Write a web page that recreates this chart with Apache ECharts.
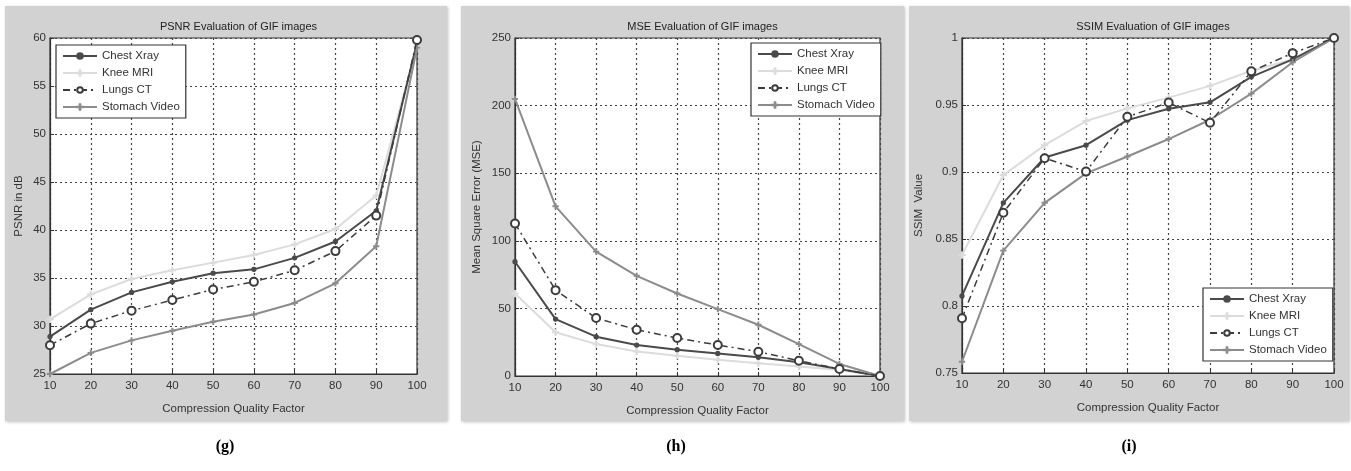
<!DOCTYPE html>
<html><head><meta charset="utf-8">
<script src="https://cdn.jsdelivr.net/npm/echarts@6/dist/echarts.min.js"></script>
<style>html,body{margin:0;padding:0;background:#fff}#c{width:1351px;height:471px}</style>
</head><body><div id="c"></div>
<script>
const quality = [10, 20, 30, 40, 50, 60, 70, 80, 90, 100];
const seriesNames = ['Chest Xray', 'Knee MRI', 'Lungs CT', 'Stomach Video'];

const psnrChest   = [28.9, 31.7, 33.5, 34.6, 35.5, 35.9, 37.1, 38.8, 42.0, 59.5];
const psnrKnee    = [30.7, 33.3, 34.9, 35.8, 36.6, 37.4, 38.5, 40.1, 43.6, 59.2];
const psnrLungs   = [28.0, 30.25, 31.6, 32.7, 33.8, 34.6, 35.8, 37.8, 41.5, 59.8];
const psnrStomach = [25.0, 27.2, 28.5, 29.5, 30.45, 31.2, 32.4, 34.45, 38.3, 59.0];

const mseChest   = [84.5, 42.1, 29.1, 22.9, 19.5, 16.7, 13.8, 10.1, 5.2, 0];
const mseKnee    = [61.0, 32.3, 23.6, 18.2, 15.0, 12.0, 9.4, 7.1, 4.4, 0];
const mseLungs   = [112.8, 63.5, 42.9, 34.2, 28.1, 22.9, 18.0, 11.3, 5.2, 0];
const mseStomach = [205, 125.5, 92, 74.1, 61, 49.5, 37.9, 23.6, 8.9, 0];

const ssimChest   = [0.8075, 0.877, 0.9108, 0.920, 0.9387, 0.9472, 0.952, 0.971, 0.984, 1.0];
const ssimKnee    = [0.838, 0.8977, 0.920, 0.938, 0.9475, 0.9555, 0.9643, 0.9756, 0.984, 1.0];
const ssimLungs   = [0.7908, 0.8696, 0.9103, 0.9003, 0.9412, 0.9518, 0.9367, 0.9751, 0.9887, 1.0];
const ssimStomach = [0.7584, 0.8413, 0.877, 0.899, 0.9116, 0.9246, 0.939, 0.9585, 0.9819, 1.0];

const yTicksPSNR = {min: 25, max: 60, interval: 5};
const yTicksMSE  = {min: 0, max: 250, interval: 50};
const yTicksSSIM = {min: 0.75, max: 1, interval: 0.05};

const panelTitles = ['PSNR Evaluation of GIF images', 'MSE Evaluation of GIF images', 'SSIM Evaluation of GIF images'];
const yNames = ['PSNR in dB', 'Mean Square Error (MSE)', 'SSIM  Value'];
const xName = 'Compression Quality Factor';
const panelLabels = ['(g)', '(h)', '(i)'];

const FONT = 'Liberation Sans, Arial, sans-serif';
const plusPath = 'path://M4.4,0H5.6V4.4H10V5.6H5.6V10H4.4V5.6H0V4.4H4.4Z';
const styles = [
  {color: '#4a4a4a', width: 2, type: 'solid', symbol: 'circle', size: 4},
  {color: '#dcdcdc', width: 2, type: 'solid', symbol: plusPath, size: 6},
  {color: '#3c3c3c', width: 1.5, type: [7, 4, 2, 4], symbol: 'emptyCircle', size: 8},
  {color: '#8c8c8c', width: 2, type: 'solid', symbol: plusPath, size: 5}
];

const grids = [
  {left: 50, top: 38, width: 367, height: 336},
  {left: 515, top: 38, width: 365, height: 338},
  {left: 962, top: 38, width: 372, height: 335}
];
const yTicks = [yTicksPSNR, yTicksMSE, yTicksSSIM];
const yGaps = [25, 32, 37];
const dataSets = [
  [psnrChest, psnrKnee, psnrLungs, psnrStomach],
  [mseChest, mseKnee, mseLungs, mseStomach],
  [ssimChest, ssimKnee, ssimLungs, ssimStomach]
];

const grid = grids.map(g => Object.assign({show: true, backgroundColor: '#fff', borderColor: '#333', borderWidth: 1.2}, g));
const xAxis = grids.map((g, i) => ({
  type: 'value', gridIndex: i, min: 10, max: 100, interval: 10,
  name: xName, nameLocation: 'middle', nameGap: 29,
  nameTextStyle: {fontFamily: FONT, fontSize: 11.5, color: '#333'},
  axisLine: {show: true, lineStyle: {color: '#333', width: 1.2}},
  axisTick: {show: true, inside: true, length: 4, lineStyle: {color: '#333'}},
  axisLabel: {fontFamily: FONT, fontSize: 11.5, color: '#333', margin: 6},
  splitLine: {show: true, lineStyle: {color: '#444', type: [2, 3], width: 1.2}}
}));
const yAxis = grids.map((g, i) => ({
  type: 'value', gridIndex: i, min: yTicks[i].min, max: yTicks[i].max, interval: yTicks[i].interval,
  name: yNames[i], nameLocation: 'middle', nameGap: yGaps[i],
  nameTextStyle: {fontFamily: FONT, fontSize: 11.5, color: '#333'},
  axisLine: {show: true, lineStyle: {color: '#333', width: 1.2}},
  axisTick: {show: true, inside: true, length: 4, lineStyle: {color: '#333'}},
  axisLabel: {fontFamily: FONT, fontSize: 11.5, color: '#333', margin: 4,
    formatter: v => String(+v.toFixed(2))},
  splitLine: {show: true, lineStyle: {color: '#444', type: [2, 3], width: 1.2}}
}));

const series = [];
dataSets.forEach((set, gi) => {
  set.forEach((vals, si) => {
    const s = styles[si];
    series.push({
      type: 'line', name: seriesNames[si], xAxisIndex: gi, yAxisIndex: gi,
      data: quality.map((q, k) => [q, vals[k]]),
      symbol: s.symbol, symbolSize: s.size, showSymbol: true, showAllSymbol: true,
      lineStyle: {color: s.color, width: s.width, type: s.type},
      itemStyle: {color: s.color, borderColor: s.color, borderWidth: 1.3},
      color: s.color,
      z: [3, 2, 4, 3][si],
      animation: false
    });
  });
});

const legendBase = {
  orient: 'vertical', data: seriesNames, show: true,
  backgroundColor: '#fff', borderColor: '#333', borderWidth: 1.2, borderRadius: 0,
  padding: [5, 6, 5, 6], itemGap: 5, itemWidth: 34, itemHeight: 7,
  textStyle: {fontFamily: FONT, fontSize: 11.5, color: '#333'},
  selectedMode: false
};
const legend = [
  Object.assign({left: 56, top: 45}, legendBase),
  Object.assign({left: 751, top: 43}, legendBase),
  Object.assign({left: 1203, top: 288}, legendBase)
];

const title = grids.map((g, i) => ({
  text: panelTitles[i], left: g.left + g.width / 2, top: 16, textAlign: 'center',
  textStyle: {fontFamily: FONT, fontSize: 11, fontWeight: 'normal', color: '#222'}
}));

const panels = [[5, 6, 442, 415], [461, 6, 443, 415], [909, 6, 440, 415]];
const graphic = panels.map(p => ({
  type: 'rect', shape: {x: p[0], y: p[1], width: p[2], height: p[3]}, z: -10, silent: true,
  style: {fill: '#d2d2d2', shadowBlur: 3, shadowColor: 'rgba(0,0,0,0.25)', shadowOffsetX: 1, shadowOffsetY: 1}
})).concat(panelLabels.map((t, i) => ({
  type: 'text', x: [225, 676, 1129][i], y: 447, z: 10,
  style: {text: t, textAlign: 'center', textVerticalAlign: 'middle',
    font: 'bold 16px "Liberation Serif", "Times New Roman", serif', fill: '#000'}
})));

const chart = echarts.init(document.getElementById('c'), null, {renderer: 'canvas'});
chart.setOption({animation: false, backgroundColor: '#fff', title, grid, xAxis, yAxis, series, legend, graphic});
</script></body></html>
